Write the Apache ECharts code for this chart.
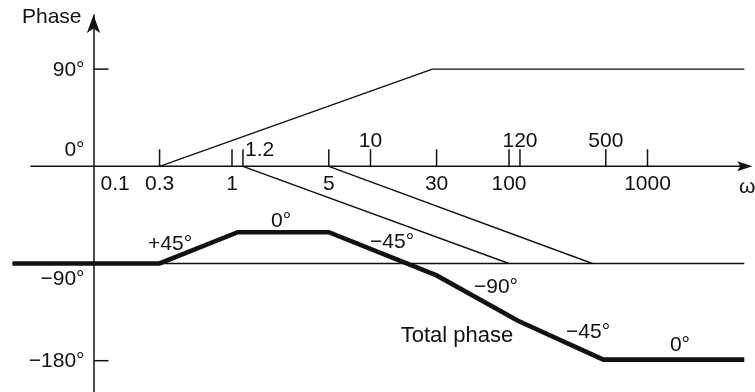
<!DOCTYPE html>
<html>
<head>
<meta charset="utf-8">
<script src="https://cdn.jsdelivr.net/npm/echarts@6/dist/echarts.min.js"></script>
<style>
html, body { margin: 0; padding: 0; background: #fff; }
#chart { width: 755px; height: 392px; }
</style>
</head>
<body>
<div id="chart"></div>
<script>
// Frequency axis (rad/s): drawn range and marks
const omegaAxisStart = 0.035;
const omegaAxisEnd = 5000;
const omegaTicks = [0.3, 1, 1.2, 5, 10, 30, 100, 120, 500, 1000];
const omegaLabelsBelow = ['0.1', '0.3', '1', '5', '30', '100', '1000'];
const omegaLabelsBelowAt = [0.1, 0.3, 1, 5, 30, 100, 1000];
const omegaLabelsAbove = ['1.2', '10', '120', '500'];
const omegaLabelsAboveAt = [1.2, 10, 120, 500];
const omegaName = 'ω';

// Phase axis marks (degrees)
const phaseTicks = [90, -180];
const phaseLabels = ['90°', '0°', '−90°', '−180°'];
const phaseLabelsAt = [90, 0, -90, -180];

// Straight-line asymptotes of the individual factors
const zeroOmega = [0.3, 28, 5000];
const zeroPhase = [0, 90, 90];
const pole1Omega = [1.2, 100];
const pole1Phase = [0, -90];
const pole2Omega = [5, 400];
const pole2Phase = [0, -90];
const integratorOmega = [0.026, 5000];
const integratorPhase = [-90, -90];

// Their sum: the total phase
const totalOmega = [0.026, 0.3, 1.1, 5, 30, 116, 480, 5000];
const totalPhase = [-90, -90, -61, -61, -101, -143, -179, -179];

// Slope notes along the total phase
const slopeTexts = ['+45°', '0°', '−45°', '−90°', '−45°', '0°'];
const slopeOmega = [0.357, 2.26, 14.3, 80.5, 372, 1716];
const slopePhase = [-71.9, -50.6, -70.1, -111.8, -153.4, -165.5];
const totalText = 'Total phase';
const totalTextOmega = 42.1;
const totalTextPhase = -157;

const INK = '#111';
const FONT = '"Liberation Sans", Arial, Helvetica, sans-serif';

const zip = (xs, ys) => xs.map((x, i) => [x, ys[i]]);

function thinLine(name, xs, ys) {
  return {
    name, type: 'line', data: zip(xs, ys), symbol: 'none', clip: false,
    silent: true, z: 2,
    lineStyle: { color: INK, width: 1.4 }
  };
}

function textEl(x, y, text, align, vAlign, size) {
  return {
    type: 'text', x, y,
    style: { text, fill: INK, fontSize: size || 21, fontFamily: FONT, align, verticalAlign: vAlign }
  };
}

const chart = echarts.init(document.getElementById('chart'), null, { renderer: 'canvas' });

chart.setOption({
  animation: false,
  backgroundColor: '#fff',
  grid: { left: 10.115, width: 734.19, top: 15.1, height: 378, containLabel: false, outerBoundsMode: 'none' },
  xAxis: {
    type: 'log', logBase: 10, min: 0.025, max: 5000,
    axisLine: { show: false }, axisTick: { show: false },
    axisLabel: { show: false }, splitLine: { show: false }
  },
  yAxis: {
    type: 'value', min: -210, max: 140, offset: -83.385,
    axisLine: { show: true, onZero: false, symbol: ['none', 'arrow'], symbolSize: [10, 18],
      lineStyle: { color: INK, width: 1.5 } },
    axisTick: { show: false }, axisLabel: { show: false }, splitLine: { show: false },
    name: 'Phase', nameLocation: 'end', nameGap: -2,
    nameTextStyle: { color: INK, fontSize: 21, fontFamily: FONT, align: 'right', verticalAlign: 'middle', padding: [0, 12, 0, 0] }
  },
  series: [
    thinLine('integrator', integratorOmega, integratorPhase),
    thinLine('zero', zeroOmega, zeroPhase),
    thinLine('pole 1', pole1Omega, pole1Phase),
    thinLine('pole 2', pole2Omega, pole2Phase),
    {
      name: 'Total phase', type: 'line', data: zip(totalOmega, totalPhase),
      symbol: 'none', clip: false, silent: true, z: 3,
      lineStyle: { color: INK, width: 4.6, join: 'miter', cap: 'butt' }
    },
    {
      // the ω axis at 0°, with its arrow and name
      type: 'custom', clip: false, silent: true, z: 4,
      data: [[omegaAxisStart, 0, omegaAxisEnd]],
      renderItem: (params, api) => {
        const a = api.coord([api.value(0), api.value(1)]);
        const b = api.coord([api.value(2), api.value(1)]);
        const tip = b[0] + 8;
        return {
          type: 'group',
          children: [
            { type: 'line', shape: { x1: a[0], y1: a[1], x2: b[0], y2: b[1] },
              style: { stroke: INK, lineWidth: 1.5 } },
            { type: 'polygon',
              shape: { points: [[tip, b[1]], [tip - 15, b[1] - 5], [tip - 12, b[1]], [tip - 15, b[1] + 5]] },
              style: { fill: INK } },
            textEl(b[0] + 3, b[1] + 21, omegaName, 'center', 'middle')
          ]
        };
      }
    },
    {
      // frequency ticks standing on the ω axis
      type: 'custom', clip: false, silent: true, z: 4,
      data: omegaTicks.map(v => [v, 0]),
      renderItem: (params, api) => {
        const p = api.coord([api.value(0), api.value(1)]);
        return { type: 'line', shape: { x1: p[0], y1: p[1], x2: p[0], y2: p[1] - 17 },
          style: { stroke: INK, lineWidth: 1.5 } };
      }
    },
    {
      // frequency labels under the axis
      type: 'custom', clip: false, silent: true, z: 4,
      data: omegaLabelsBelowAt.map((v, i) => [v, 0, i]),
      renderItem: (params, api) => {
        const i = api.value(2);
        const p = api.coord([api.value(0), api.value(1)]);
        const text = omegaLabelsBelow[i];
        // the 0.1 label sits to the right of the phase axis
        if (i === 0) return textEl(p[0] + 7, p[1] + 18, text, 'left', 'middle');
        return textEl(p[0], p[1] + 18, text, 'center', 'middle');
      }
    },
    {
      // frequency labels above the axis
      type: 'custom', clip: false, silent: true, z: 4,
      data: omegaLabelsAboveAt.map((v, i) => [v, 0, i]),
      renderItem: (params, api) => {
        const i = api.value(2);
        const p = api.coord([api.value(0), api.value(1)]);
        const text = omegaLabelsAbove[i];
        if (i === 0) return textEl(p[0] + 2, p[1] - 16, text, 'left', 'middle');
        return textEl(p[0], p[1] - 25, text, 'center', 'middle');
      }
    },
    {
      // phase ticks pointing into the plot
      type: 'custom', clip: false, silent: true, z: 4,
      data: phaseTicks.map(v => [0.1, v]),
      renderItem: (params, api) => {
        const p = api.coord([api.value(0), api.value(1)]);
        return { type: 'line', shape: { x1: p[0], y1: p[1], x2: p[0] + 15, y2: p[1] },
          style: { stroke: INK, lineWidth: 1.5 } };
      }
    },
    {
      // phase labels left of the axis; 0° and −90° step aside from the lines
      type: 'custom', clip: false, silent: true, z: 4,
      data: phaseLabelsAt.map((v, i) => [0.1, v, i]),
      renderItem: (params, api) => {
        const i = api.value(2);
        const v = api.value(1);
        const p = api.coord([api.value(0), v]);
        const shift = v === 0 ? -16 : (v === -90 ? 16 : 1);
        return textEl(p[0] - 9, p[1] + shift, phaseLabels[i], 'right', 'middle');
      }
    },
    {
      // slope notes and the curve name
      type: 'custom', clip: false, silent: true, z: 5,
      data: slopeOmega.map((v, i) => [v, slopePhase[i], i]).concat([[totalTextOmega, totalTextPhase, -1]]),
      renderItem: (params, api) => {
        const i = api.value(2);
        const p = api.coord([api.value(0), api.value(1)]);
        if (i < 0) return textEl(p[0], p[1], totalText, 'center', 'middle', 22);
        return textEl(p[0], p[1], slopeTexts[i], 'center', 'middle');
      }
    }
  ]
});
</script>
</body>
</html>
